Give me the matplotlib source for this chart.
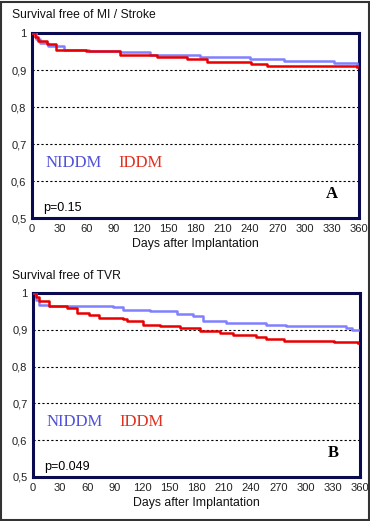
import matplotlib
matplotlib.use("Agg")
import matplotlib.pyplot as plt
from matplotlib.patches import Rectangle

# Panel A: survival free of MI / Stroke
a_niddm_days = [0, 4, 9, 18, 35, 63, 97, 130, 185, 240, 277, 332, 358]
a_niddm_surv = [1.0, 0.985, 0.973, 0.964, 0.955, 0.952, 0.948, 0.941, 0.935, 0.930, 0.923, 0.919, 0.914]
a_iddm_days = [0, 3, 7, 16, 26, 59, 97, 138, 171, 193, 241, 259, 358]
a_iddm_surv = [1.0, 0.99, 0.978, 0.969, 0.955, 0.952, 0.941, 0.934, 0.930, 0.921, 0.916, 0.910, 0.907]

# Panel B: survival free of TVR
b_niddm_days = [0, 3, 7, 18, 88, 99, 129, 158, 176, 187, 213, 257, 279, 345, 351, 358]
b_niddm_surv = [1.0, 0.98, 0.968, 0.964, 0.963, 0.955, 0.950, 0.944, 0.937, 0.925, 0.919, 0.914, 0.910, 0.905, 0.900, 0.900]
b_iddm_days = [0, 3, 7, 18, 37, 48, 62, 73, 99, 103, 121, 140, 162, 184, 206, 220, 246, 257, 276, 331, 358]
b_iddm_surv = [1.0, 0.99, 0.977, 0.964, 0.960, 0.946, 0.939, 0.932, 0.930, 0.923, 0.914, 0.910, 0.904, 0.897, 0.891, 0.885, 0.881, 0.874, 0.869, 0.867, 0.865]

xticks = list(range(0, 361, 30))
yticks = [0.5, 0.6, 0.7, 0.8, 0.9, 1.0]
ytick_labels = ["0,5", "0,6", "0,7", "0,8", "0,9", "1"]

panels = [
    dict(title="Survival free of MI / Stroke", letter="A", p="p=0.15",
         nd=a_niddm_days, ns=a_niddm_surv, idd=a_iddm_days, isv=a_iddm_surv,
         rect=[32/370, 1-218/521, 327/370, 185/521], title_y=1-15/521),
    dict(title="Survival free of TVR", letter="B", p="p=0.049",
         nd=b_niddm_days, ns=b_niddm_surv, idd=b_iddm_days, isv=b_iddm_surv,
         rect=[33/370, 1-477/521, 327/370, 184/521], title_y=1-276/521),
]

fig = plt.figure(figsize=(3.70, 5.21), dpi=100)
fig.patch.set_facecolor("white")
plt.rcParams['font.family'] = ['Liberation Sans', 'DejaVu Sans']

navy = "#0a0a50"
blue = "#8080ff"
red = "#e80000"

for p in panels:
    ax = fig.add_axes(p["rect"])
    ax.step(p["nd"], p["ns"], where="post", color=blue, lw=1.8, zorder=3)
    ax.step(p["idd"], p["isv"], where="post", color=red, lw=1.8, zorder=4)
    ax.set_xlim(0, 360)
    ax.set_ylim(0.5, 1.0)
    ax.set_xticks(xticks)
    ax.set_yticks(yticks)
    ax.set_yticklabels(ytick_labels)
    ax.tick_params(length=0, labelsize=8, pad=4, colors="#222222")
    for y in [0.6, 0.7, 0.8, 0.9]:
        ax.axhline(y, color="black", lw=0.8, ls=(0, (2, 2)), zorder=1)
    for s in ax.spines.values():
        s.set_color(navy)
        s.set_linewidth(2.2)
    ax.set_xlabel("Days after Implantation", fontsize=8.8, labelpad=3, color="#111111")
    ax.text(0.04, 0.30, "NIDDM", transform=ax.transAxes, family="Liberation Serif",
            fontsize=12, color="#5050d8", va="center")
    ax.text(0.265, 0.30, "IDDM", transform=ax.transAxes, family="Liberation Serif",
            fontsize=12, color="#e03020", va="center")
    ax.text(0.90, 0.13, p["letter"], transform=ax.transAxes, family="Liberation Serif",
            fontsize=12, fontweight="bold", color="black", va="center")
    ax.text(0.035, 0.055, p["p"], transform=ax.transAxes, fontsize=9, color="black",
            va="center")
    fig.text(12/370, p["title_y"], p["title"], fontsize=8.7, color="#111111", va="center")

fig.patches.append(Rectangle((0.002, 0.002), 0.995, 0.995, transform=fig.transFigure,
                             fill=False, edgecolor="#333333", lw=1.5))

fig.savefig("out.png", dpi=100, facecolor="white")
